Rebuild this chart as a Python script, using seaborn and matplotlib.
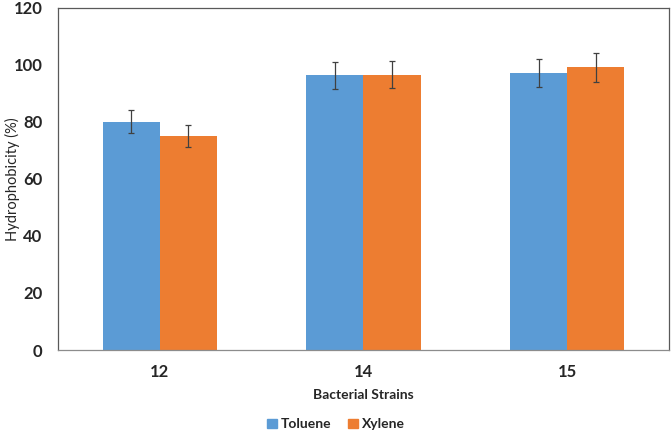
import pandas as pd
import numpy as np
import matplotlib
matplotlib.use("Agg")
import matplotlib.pyplot as plt
import seaborn as sns

# Hydrophobicity of bacterial strains in two solvents
strains = ["12", "14", "15"]
solvents = ["Toluene", "Xylene"]
toluene = [80, 96.2, 97]
xylene = [75, 96.5, 99]
toluene_err = [4, 4.8, 4.9]
xylene_err = [3.7, 4.8, 5]

df = pd.DataFrame({
    "strain": strains * 2,
    "solvent": ["Toluene"] * 3 + ["Xylene"] * 3,
    "value": toluene + xylene,
    "err": toluene_err + xylene_err,
})

sns.set_style("white")
plt.rcParams['font.family'] = ['Lato', 'DejaVu Sans']

fig = plt.figure(figsize=(6.72, 4.34), dpi=100)
ax = fig.add_axes([0.0863, 0.1935, 0.9092, 0.7892])

palette = {"Toluene": "#5B9BD5", "Xylene": "#ED7D31"}
sns.barplot(data=df, x="strain", y="value", hue="solvent", order=strains,
            hue_order=solvents, palette=palette, width=0.56, errorbar=None,
            saturation=1, linewidth=0, ax=ax, legend=False)

# error bars at the bar centres
for cont, solv in zip(ax.containers, solvents):
    errs = df[df.solvent == solv]["err"].values
    vals = df[df.solvent == solv]["value"].values
    xs = [p.get_x() + p.get_width() / 2 for p in cont.patches]
    ax.errorbar(xs, vals, yerr=errs, fmt="none", ecolor="#404040",
                elinewidth=0.9, capsize=2.5, capthick=0.9)

ax.set_ylim(0, 120)
ax.set_yticks(np.arange(0, 121, 20))
ax.set_xlim(-0.5, 2.5)
for s in ax.spines.values():
    s.set_color("#595959")
    s.set_linewidth(0.9)
ax.spines["bottom"].set_color("#8c8c8c")
ax.tick_params(axis="both", length=0, labelsize=12)
ax.tick_params(axis="x", pad=10)
ax.tick_params(axis="y", pad=11)
for lab in ax.get_xticklabels() + ax.get_yticklabels():
    lab.set_fontweight("bold")

ax.set_xlabel("Bacterial Strains", fontsize=10, fontweight="bold")
ax.xaxis.set_label_coords(0.5, -0.115)
ax.set_ylabel("Hydrophobicity (%)", fontsize=10.5)
ax.yaxis.set_label_coords(-0.063, 0.5)

handles = [plt.Rectangle((0, 0), 1, 1, color=palette[s]) for s in solvents]
fig.legend(handles, solvents, loc="center", bbox_to_anchor=(0.5, 0.022),
           ncol=2, frameon=False, handlelength=0.7, handleheight=0.7,
           handletextpad=0.3, columnspacing=1.2,
           prop={"weight": "bold", "size": 10})

fig.savefig("out.png", dpi=100)
